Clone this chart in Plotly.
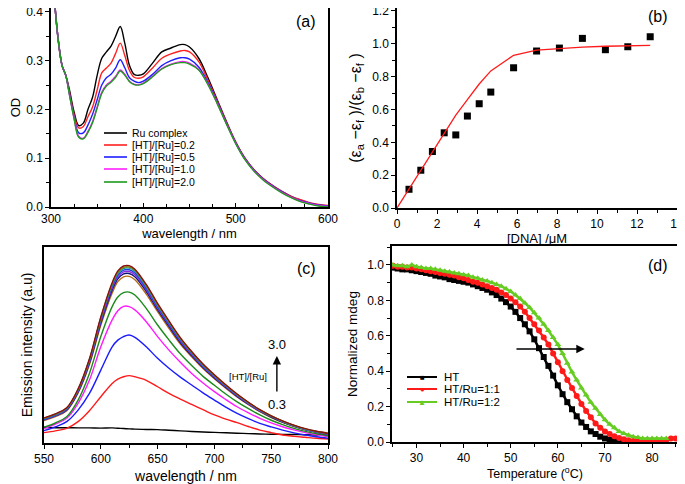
import plotly.graph_objects as go

# ---------------- Panel (a): UV-vis titration ----------------
wl_a = [300, 304, 308, 312, 316, 320, 325, 330, 335, 340, 345, 350, 355, 360, 365, 370,
        375, 380, 385, 390, 395, 400, 410, 420, 430, 440, 445, 450, 460, 470, 480, 490,
        500, 510, 520, 530, 540, 550, 560, 570, 580, 590, 600]
od_ru = [0.55, 0.42, 0.34, 0.29, 0.27, 0.24, 0.195, 0.167, 0.172, 0.20, 0.225, 0.27, 0.305, 0.318,
         0.33, 0.35, 0.37, 0.335, 0.29, 0.272, 0.27, 0.273, 0.295, 0.318, 0.326, 0.333, 0.333, 0.328,
         0.305, 0.265, 0.22, 0.175, 0.133, 0.100, 0.076, 0.058, 0.044, 0.032, 0.022, 0.014, 0.008, 0.004, 0.002]
od_02 = [0.55, 0.42, 0.34, 0.29, 0.27, 0.235, 0.19, 0.162, 0.165, 0.185, 0.205, 0.24, 0.275, 0.285,
         0.295, 0.315, 0.336, 0.31, 0.28, 0.266, 0.264, 0.267, 0.285, 0.305, 0.314, 0.32, 0.321, 0.318,
         0.298, 0.26, 0.218, 0.174, 0.133, 0.100, 0.076, 0.058, 0.044, 0.032, 0.022, 0.015, 0.009, 0.005, 0.003]
od_05 = [0.55, 0.42, 0.34, 0.29, 0.27, 0.232, 0.185, 0.152, 0.152, 0.168, 0.19, 0.22, 0.25, 0.265,
         0.272, 0.285, 0.302, 0.285, 0.265, 0.258, 0.255, 0.258, 0.272, 0.29, 0.30, 0.306, 0.306, 0.303,
         0.287, 0.255, 0.215, 0.172, 0.132, 0.099, 0.075, 0.057, 0.043, 0.031, 0.021, 0.013, 0.008, 0.004, 0.002]
od_10 = [0.55, 0.42, 0.34, 0.29, 0.27, 0.23, 0.182, 0.145, 0.141, 0.155, 0.175, 0.205, 0.235, 0.25,
         0.258, 0.268, 0.281, 0.272, 0.258, 0.252, 0.251, 0.254, 0.268, 0.284, 0.293, 0.298, 0.298, 0.295,
         0.282, 0.252, 0.213, 0.171, 0.131, 0.098, 0.074, 0.056, 0.042, 0.030, 0.020, 0.012, 0.007, 0.003, 0.001]
od_20 = [0.55, 0.42, 0.34, 0.29, 0.27, 0.23, 0.181, 0.143, 0.140, 0.153, 0.173, 0.203, 0.233, 0.248,
         0.256, 0.266, 0.279, 0.270, 0.257, 0.251, 0.250, 0.253, 0.267, 0.283, 0.292, 0.296, 0.296, 0.293,
         0.281, 0.251, 0.212, 0.170, 0.130, 0.097, 0.073, 0.055, 0.041, 0.029, 0.019, 0.011, 0.006, 0.002, 0.0]
names_a = ["Ru complex", "[HT]/[Ru]=0.2", "[HT]/[Ru]=0.5", "[HT]/[Ru]=1.0", "[HT]/[Ru]=2.0"]
colors_a = ["#000000", "#ff2020", "#1f1fff", "#ff20ff", "#1f9a1f"]

# ---------------- Panel (b): binding isotherm ----------------
dna_x = [0.6, 1.19, 1.77, 2.36, 2.94, 3.52, 4.11, 4.69, 5.83, 6.98, 8.12, 9.27, 10.42, 11.54, 12.66]
ratio_y = [0.114, 0.23, 0.344, 0.458, 0.445, 0.56, 0.635, 0.706, 0.854, 0.956, 0.974, 1.033, 0.964, 0.982, 1.043]
fit_x = [0, 0.6, 1.19, 1.77, 2.36, 2.94, 3.52, 4.11, 4.69, 5.83, 6.98, 8.12, 9.27, 10.42, 11.54, 12.66]
fit_y = [0, 0.115, 0.23, 0.345, 0.46, 0.565, 0.66, 0.755, 0.835, 0.93, 0.962, 0.972, 0.98, 0.985, 0.988, 0.99]

# ---------------- Panel (c): emission titration ----------------
wl_c = [550, 560, 570, 580, 590, 600, 610, 615, 620, 625, 630, 640, 650, 660, 670, 680,
        690, 700, 710, 720, 730, 740, 750, 760, 770, 780, 790, 800]
em_0 = [8.0, 7.8, 7.8, 7.7, 7.7, 7.6, 7.7, 7.5, 7.4, 7.2, 7.1, 6.9, 6.8, 6.5, 6.2, 5.9,
        5.6, 5.4, 5.2, 5.0, 4.8, 4.6, 4.5, 4.4, 4.3, 4.2, 4.1, 4.1]
em_1 = [5.3, 6.2, 7.5, 10.9, 16.5, 23.6, 30.4, 32.6, 33.8, 34.4, 33.8, 32.0, 28.7, 25.3, 22.4, 19.7,
        17.0, 14.3, 12.2, 10.4, 8.4, 6.6, 5.3, 4.1, 3.4, 2.9, 2.4, 2.0]
em_2 = [6.3, 8.2, 10.9, 16.8, 25.3, 37.2, 49.1, 52.5, 54.3, 55.1, 53.9, 49.1, 43.2, 38.1, 33.6, 29.6,
        25.6, 21.9, 18.3, 15.1, 12.4, 10.0, 8.2, 6.6, 5.2, 4.1, 3.2, 2.4]
em_3 = [7.3, 9.6, 12.6, 20.2, 32.1, 49.1, 62.8, 67.5, 69.7, 69.6, 67.9, 61.9, 54.3, 47.4, 41.2, 35.5,
        30.6, 26.2, 22.2, 18.5, 15.4, 12.6, 10.3, 8.3, 6.7, 5.3, 4.2, 3.2]
em_4 = [8.0, 10.2, 13.4, 21.9, 35.5, 54.3, 69.6, 74.5, 76.7, 77.0, 75.5, 68.7, 60.2, 52.6, 45.5, 39.5,
        34.0, 29.5, 25.0, 21.0, 17.5, 14.3, 11.6, 9.4, 7.5, 5.9, 4.7, 3.7]
em_5 = [11.5, 13.5, 16.5, 25.5, 40.0, 60.0, 76.5, 82.3, 84.8, 85.0, 83.3, 76.0, 67.0, 58.5, 50.5, 44.0,
        38.0, 32.8, 28.0, 23.5, 19.5, 16.0, 13.0, 10.5, 8.4, 6.7, 5.4, 4.4]
em_6 = [11.8, 13.8, 16.8, 26.0, 40.8, 61.2, 78.0, 83.8, 86.3, 86.5, 84.8, 77.3, 68.0, 59.5, 51.3, 44.6,
        38.5, 33.2, 28.4, 23.8, 19.8, 16.2, 13.2, 10.7, 8.6, 6.8, 5.5, 4.5]
em_7 = [12.0, 14.0, 17.1, 26.4, 41.3, 62.0, 79.0, 84.8, 87.3, 87.5, 85.8, 78.2, 68.8, 60.2, 51.9, 45.1,
        38.9, 33.6, 28.7, 24.1, 20.0, 16.4, 13.4, 10.9, 8.7, 6.9, 5.6, 4.6]
em_8 = [12.1, 14.2, 17.3, 26.7, 41.8, 62.7, 79.8, 85.7, 88.2, 88.4, 86.7, 79.0, 69.5, 60.8, 52.5, 45.6,
        39.3, 34.0, 29.0, 24.4, 20.3, 16.6, 13.6, 11.0, 8.8, 7.0, 5.7, 4.7]
em_9 = [12.4, 14.5, 17.6, 27.1, 42.3, 63.4, 80.6, 86.5, 89.0, 89.2, 87.5, 79.8, 70.2, 61.4, 53.0, 46.0,
        39.7, 34.3, 29.3, 24.6, 20.5, 16.8, 13.7, 11.1, 8.9, 7.1, 5.8, 4.8]
em_10 = [12.6, 14.7, 17.8, 27.3, 42.6, 63.8, 81.1, 87.1, 89.6, 89.8, 88.1, 80.3, 70.6, 61.8, 53.3, 46.3,
         40.0, 34.5, 29.5, 24.8, 20.6, 16.9, 13.8, 11.2, 9.0, 7.2, 5.9, 4.9]
em_11 = [12.8, 14.9, 18.0, 27.6, 43.0, 64.3, 81.8, 87.8, 90.3, 90.5, 88.7, 80.9, 71.2, 62.3, 53.8, 46.7,
         40.3, 34.8, 29.7, 25.0, 20.8, 17.0, 13.9, 11.3, 9.1, 7.3, 6.0, 5.0]
colors_c = ["#000000", "#ff1a1a", "#1a1aff", "#ff1aff", "#1a8a1a", "#b06a10",
            "#10107a", "#8a2be2", "#2040e0", "#10a0a0", "#808010", "#8a1010"]

# ---------------- Panel (d): melting curves ----------------
temp_ht = list(range(25, 75))
norm_ht = [0.985, 0.98, 0.975, 0.975, 0.97, 0.965, 0.96, 0.955, 0.95, 0.94, 0.935, 0.93, 0.92, 0.915,
           0.91, 0.905, 0.90, 0.89, 0.88, 0.87, 0.86, 0.845, 0.83, 0.81, 0.79, 0.765, 0.735, 0.70,
           0.665, 0.625, 0.58, 0.53, 0.48, 0.43, 0.375, 0.32, 0.27, 0.225, 0.185, 0.145, 0.11, 0.085,
           0.06, 0.045, 0.03, 0.02, 0.012, 0.006, 0.002, 0.0]
temp_11 = list(range(25, 86))
norm_11 = [0.995, 0.99, 0.99, 0.985, 0.985, 0.98, 0.975, 0.97, 0.965, 0.96, 0.955, 0.95, 0.945, 0.94,
           0.93, 0.925, 0.915, 0.905, 0.90, 0.89, 0.88, 0.87, 0.86, 0.845, 0.83, 0.81, 0.79, 0.765,
           0.735, 0.70, 0.665, 0.63, 0.59, 0.55, 0.50, 0.45, 0.40, 0.35, 0.305, 0.26, 0.215, 0.175,
           0.14, 0.105, 0.08, 0.06, 0.045, 0.032, 0.022, 0.015, 0.01, 0.006, 0.004, 0.003, 0.002,
           0.002, 0.002, 0.002, 0.01, 0.02, 0.02]
temp_12 = list(range(25, 84))
norm_12 = [1.0, 0.995, 0.995, 0.99, 1.0, 0.99, 0.985, 0.98, 0.98, 0.975, 0.97, 0.965, 0.96, 0.955,
           0.95, 0.945, 0.94, 0.93, 0.925, 0.915, 0.91, 0.90, 0.89, 0.88, 0.865, 0.85, 0.83, 0.81,
           0.785, 0.76, 0.73, 0.70, 0.665, 0.63, 0.59, 0.55, 0.50, 0.445, 0.395, 0.35, 0.305, 0.265,
           0.225, 0.19, 0.155, 0.125, 0.10, 0.08, 0.06, 0.048, 0.038, 0.03, 0.025, 0.02, 0.02, 0.02,
           0.02, 0.02, 0.02]

FONT = "Liberation Sans, Arial, sans-serif"
OFF = 8                      # default page margin of the html body
W, H = 685 - OFF, 484 - OFF  # figure fits the window exactly

# panel frames in window pixels: left, right, bottom, top
BOX = {
    "a": (51, 328, 207, max(4, OFF)),
    "b": (397, 677, 208, max(5, OFF)),
    "c": (44, 328, 443, 247),
    "d": (392, 678, 442, 246),
}


def dom_x(p):
    l, r, b, t = BOX[p]
    return [(l - OFF) / W, (r - OFF) / W]


def dom_y(p):
    l, r, b, t = BOX[p]
    return [1 - (b - OFF) / H, 1 - (t - OFF) / H]


def fx(p, sx):
    l, r, b, t = BOX[p]
    return (sx - l) / (r - l)


def fy(p, sy):
    l, r, b, t = BOX[p]
    return (b - sy) / (b - t)


fig = go.Figure()

# (a)
for vals, nm, c in zip([od_ru, od_02, od_05, od_10, od_20], names_a, colors_a):
    fig.add_trace(go.Scatter(x=wl_a, y=vals, mode="lines", name=nm, line=dict(color=c, width=1.4, shape="spline"),
                             xaxis="x", yaxis="y", showlegend=False))
# (b)
fig.add_trace(go.Scatter(x=dna_x, y=ratio_y, mode="markers", marker=dict(symbol="square", size=7, color="black"),
                         xaxis="x2", yaxis="y2", showlegend=False))
fig.add_trace(go.Scatter(x=fit_x, y=fit_y, mode="lines", line=dict(color="#ff1a1a", width=1.3),
                         xaxis="x2", yaxis="y2", showlegend=False))
# (c)
for vals, c in zip([em_0, em_1, em_2, em_3, em_4, em_5, em_6, em_7, em_8, em_9, em_10, em_11], colors_c):
    fig.add_trace(go.Scatter(x=wl_c, y=vals, mode="lines", line=dict(color=c, width=1.4, shape="spline"),
                             xaxis="x3", yaxis="y3", showlegend=False))
# (d)
for tx, ty, c, sym in [(temp_ht, norm_ht, "#000000", "square"),
                       (temp_11, norm_11, "#ff1a1a", "circle"),
                       (temp_12, norm_12, "#66cc22", "triangle-up")]:
    fig.add_trace(go.Scatter(x=tx, y=ty, mode="lines+markers", line=dict(color=c, width=2.5),
                             marker=dict(symbol=sym, size=6, color=c),
                             xaxis="x4", yaxis="y4", showlegend=False))

axis_common = dict(showline=True, linecolor="black", linewidth=1.5, mirror=True, showgrid=False,
                   zeroline=False, tickcolor="black", automargin=False, ticklabeloverflow="allow",
                   tickfont=dict(family=FONT, size=12, color="black"),
                   title_font=dict(family=FONT, size=13, color="black"))


def ax(**kw):
    d = dict(axis_common)
    d.update(kw)
    return d


fig.update_layout(
    width=W, height=H, margin=dict(l=0, r=0, t=0, b=0),
    paper_bgcolor="white", plot_bgcolor="white",
    font=dict(family=FONT, color="black"),
    xaxis=ax(domain=dom_x("a"), anchor="y", range=[300, 600], dtick=100, ticks="inside", ticklen=4,
             minor=dict(dtick=25, ticks="inside", ticklen=3, tickcolor="black"),
             title=dict(text="wavelength / nm", standoff=4)),
    yaxis=ax(domain=dom_y("a"), anchor="x", range=[0, 0.4 * 203 / 199], dtick=0.1, tickformat=".1f",
             ticks="outside", ticklen=4,
             minor=dict(dtick=0.05, ticks="outside", ticklen=3, tickcolor="black"),
             title=dict(text="OD", standoff=6)),
    xaxis2=ax(domain=dom_x("b"), anchor="y2", range=[0, 14], dtick=2, ticks="outside", ticklen=4,
              minor=dict(dtick=1, ticks="outside", ticklen=3, tickcolor="black"),
              title=dict(text="[DNA] /μM", standoff=4)),
    yaxis2=ax(domain=dom_y("b"), anchor="x2", range=[0, 1.2 * 203 / 200], dtick=0.2, tickformat=".1f",
              ticks="outside", ticklen=4,
              minor=dict(dtick=0.1, ticks="outside", ticklen=3, tickcolor="black"),
              title=dict(text="(ε<sub>a</sub> −ε<sub>f</sub> )/(ε<sub>b</sub> −ε<sub>f</sub> )", standoff=7,
                         font=dict(size=16))),
    xaxis3=ax(domain=dom_x("c"), anchor="y3", range=[550, 800], dtick=50, ticks="outside", ticklen=4,
              minor=dict(dtick=25, ticks="outside", ticklen=3, tickcolor="black"),
              title=dict(text="wavelength / nm", standoff=8, font=dict(size=14))),
    yaxis3=ax(domain=dom_y("c"), anchor="x3", range=[0, 100], showticklabels=False, ticks="",
              title=dict(text="Emission intensity (a.u)", standoff=6, font=dict(size=14))),
    xaxis4=ax(domain=dom_x("d"), anchor="y4", range=[24.8, 85.5], dtick=10, ticks="outside", ticklen=4,
              minor=dict(dtick=5, ticks="outside", ticklen=3, tickcolor="black"),
              title=dict(text="Temperature (<sup>o</sup>C)", standoff=2, font=dict(size=12.5))),
    yaxis4=ax(domain=dom_y("d"), anchor="x4", range=[0, 1.107], dtick=0.2, tickformat=".1f", ticks="outside", ticklen=4,
              minor=dict(dtick=0.1, ticks="outside", ticklen=3, tickcolor="black"),
              title=dict(text="Normalized mdeg", standoff=6, font=dict(size=13.5))),
)

annotations = []
shapes = []
REF = {"a": ("x domain", "y domain"), "b": ("x2 domain", "y2 domain"),
       "c": ("x3 domain", "y3 domain"), "d": ("x4 domain", "y4 domain")}

# panel labels (centre positions in window pixels)
for lab, p, sx, sy in [("(a)", "a", 306, 22), ("(b)", "b", 658, 16), ("(c)", "c", 306, 268), ("(d)", "d", 658, 265)]:
    xr, yr = REF[p]
    annotations.append(dict(text=lab, xref=xr, yref=yr, x=fx(p, sx), y=fy(p, sy), showarrow=False,
                            xanchor="center", yanchor="middle",
                            font=dict(family=FONT, size=16, color="black")))

# legend (a)
rows_a = [133, 145, 157, 169, 182]
for nm, c, sy in zip(names_a, colors_a, rows_a):
    yy = fy("a", sy)
    shapes.append(dict(type="line", xref="x domain", yref="y domain", x0=fx("a", 104), x1=fx("a", 127), y0=yy, y1=yy,
                       line=dict(color=c, width=1.6)))
    annotations.append(dict(text=nm, xref="x domain", yref="y domain", x=fx("a", 130), y=yy, xanchor="left",
                            yanchor="middle", showarrow=False, font=dict(family=FONT, size=10.5, color="black")))

# legend (d)
names_d = ["HT", "HT/Ru=1:1", "HT/Ru=1:2"]
colors_d = ["#000000", "#ff1a1a", "#66cc22"]
syms_d = ["■", "●", "▲"]
rows_d = [377, 389, 402]
for nm, c, s, sy in zip(names_d, colors_d, syms_d, rows_d):
    yy = fy("d", sy)
    shapes.append(dict(type="line", xref="x4 domain", yref="y4 domain", x0=fx("d", 407), x1=fx("d", 437), y0=yy, y1=yy,
                       line=dict(color=c, width=2)))
    annotations.append(dict(text=s, xref="x4 domain", yref="y4 domain", x=fx("d", 422), y=yy, showarrow=False,
                            font=dict(size=8, color=c), xanchor="center", yanchor="middle"))
    annotations.append(dict(text=nm, xref="x4 domain", yref="y4 domain", x=fx("d", 442), y=yy, xanchor="left",
                            yanchor="middle", showarrow=False, font=dict(family=FONT, size=11.5, color="black")))

# arrow in (d)
annotations.append(dict(x=65.7, y=0.525, ax=50.9, ay=0.525, xref="x4", yref="y4", axref="x4", ayref="y4",
                        text="", showarrow=True, arrowhead=2, arrowsize=1.2, arrowwidth=1.4, arrowcolor="black"))

# arrow + labels in (c)
annotations.append(dict(x=755, y=44.4, ax=755, ay=25.5, xref="x3", yref="y3", axref="x3", ayref="y3",
                        text="", showarrow=True, arrowhead=2, arrowsize=1.2, arrowwidth=1.4, arrowcolor="black"))
annotations.append(dict(text="3.0", x=755, y=50.5, xref="x3", yref="y3", showarrow=False,
                        font=dict(family=FONT, size=13, color="black")))
annotations.append(dict(text="0.3", x=755, y=19.5, xref="x3", yref="y3", showarrow=False,
                        font=dict(family=FONT, size=13, color="black")))
annotations.append(dict(text="[HT]/[Ru]", x=729.5, y=33.7, xref="x3", yref="y3", showarrow=False,
                        font=dict(family=FONT, size=9.5, color="black")))

fig.update_layout(annotations=annotations, shapes=shapes)
fig.write_html("out.html")
